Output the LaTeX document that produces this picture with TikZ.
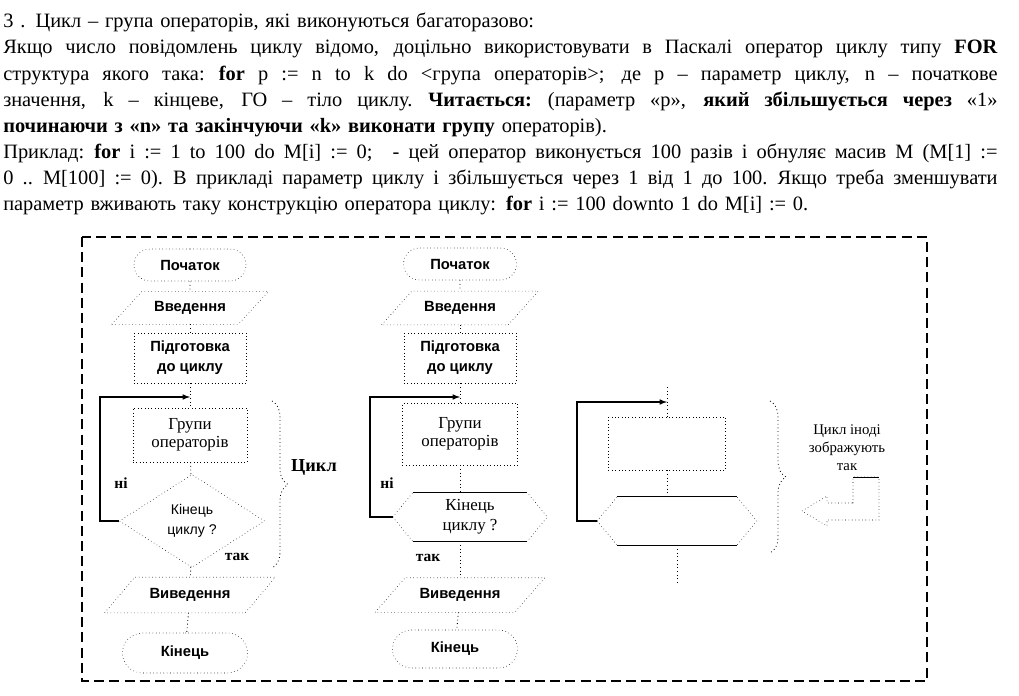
\documentclass[tikz,border=0pt]{standalone}
\usepackage{fontspec}
\setmainfont{Liberation Serif}
\setsansfont{Liberation Sans}
\usetikzlibrary{arrows,shapes.geometric,shapes.misc,decorations.pathreplacing}

% outline of an input/output block (parallelogram) and of a loop end (hexagon)
\newcommand{\iofrm}[1]{\draw[dotted] ([xshift=-0.375cm]#1.south west) -- ([xshift=0.375cm]#1.north west) -- ([xshift=0.375cm]#1.north east) -- ([xshift=-0.375cm]#1.south east) -- cycle;}
\newcommand{\hexfrm}[1]{\draw[dotted] (#1.west) -- ([xshift=0.5cm]#1.north west) -- ([xshift=-0.5cm]#1.north east) -- (#1.east) -- ([xshift=-0.5cm]#1.south east) -- ([xshift=0.5cm]#1.south west) -- cycle;
    \draw[line width=1pt] ([xshift=0.5cm]#1.north west) -- ([xshift=-0.5cm]#1.north east) ([xshift=0.5cm]#1.south west) -- ([xshift=-0.5cm]#1.south east);}
% a justified line of the text
\newcommand{\jline}[1]{\leavevmode\hbox to 24.85cm{\spaceskip=0.25em plus 1fil\xspaceskip=0.3em plus 1fil\relax #1}}

\begin{document}
\begin{tikzpicture}[x=0.025cm, y=-0.025cm,
    term/.style={rounded rectangle, draw, dotted, inner sep=0, minimum width=2.8cm, minimum height=0.8cm, font=\sffamily\bfseries\fontsize{10.5}{12}\selectfont},
    io/.style={rectangle, inner sep=0, minimum width=3.15cm, minimum height=0.8cm, font=\sffamily\bfseries\fontsize{10.5}{12}\selectfont},
    prepbox/.style={rectangle, draw, dotted, inner sep=0, minimum width=2.8cm, minimum height=1.25cm, align=center, font=\sffamily\bfseries\fontsize{10.5}{14}\selectfont},
    bodybox/.style={rectangle, draw, dotted, inner sep=0, minimum width=2.85cm, minimum height=1.35cm, align=center, font=\fontsize{12}{12.5}\selectfont},
    hexbox/.style={rectangle, inner sep=0, minimum width=3.85cm, minimum height=1.2cm, align=center, font=\fontsize{12}{14}\selectfont},
    flow/.style={dotted, line width=0.6pt},
    loopln/.style={-latex, line width=0.8pt},
    lbl/.style={inner sep=0, font=\bfseries\fontsize{11}{13}\selectfont},
    brc/.style={dotted, line width=0.6pt, decorate, decoration={brace, amplitude=0.4cm}}]
    \useasboundingbox (0,0) rectangle (1019,696);

    % text above the picture
    \node (txt) [anchor=north west, inner sep=0, text width=24.85cm, align=left,
        font=\fontsize{14.5}{18.57}\selectfont] at (3,13) {%
        3 . Цикл – група операторів, які виконуються багаторазово:\\
        \jline{Якщо число повідомлень циклу відомо, доцільно використовувати в Паскалі оператор циклу типу \textbf{FOR}}\\
        \jline{структура якого така: \textbf{for} p := n to k do <група операторів>; де р – параметр циклу, n – початкове}\\
        \jline{значення, k – кінцеве, ГО – тіло циклу. \textbf{Читається:} (параметр «р», \textbf{який збільшується через} «1»}\\
        \textbf{починаючи з «n» та закінчуючи «k» виконати групу} операторів).\\
        \jline{Приклад: \textbf{for} i := 1 to 100 do M[i] := 0; \ - цей оператор виконується 100 разів і обнуляє масив M (M[1] :=}\\
        \jline{0 .. M[100] := 0). В прикладі параметр циклу і збільшується через 1 від 1 до 100. Якщо треба зменшувати}\\
        параметр вживають таку конструкцію оператора циклу: \textbf{for} i := 100 downto 1 do M[i] := 0.};

    \draw[dash pattern=on 0.25cm off 0.13cm, line width=1.1pt] (82,237) rectangle (927,681);

    % first chart
    \node[term] (start1) at (190,265) {Початок};
    \node[io, minimum height=0.8cm] (in1) at (190,308) {Введення};
    \node[prepbox] (prep1) at (190,358) {Підготовка\\до циклу};
    \node[bodybox] (body1) at (190,435) {Групи\\операторів};
    \node[diamond, draw, dotted, inner sep=0, aspect=1.56, minimum width=3.625cm, minimum height=2.325cm,
        align=center, font=\sffamily\fontsize{10}{14}\selectfont] (cond1) at (192,521) {Кінець\\циклу ?};
    \node[io, minimum width=3.5cm, minimum height=0.875cm] (out1) at (190,595) {Виведення};
    \node[term, minimum width=3.125cm, minimum height=1cm] (end1) at (185,653) {Кінець};
    \iofrm{in1}
    \iofrm{out1}
    \coordinate (j1) at (190,397);
    \coordinate (k1) at (100,397);
    \draw[flow] (start1) -- (in1);
    \draw[flow] (in1) -- (prep1);
    \draw[flow] (prep1) -- (body1);
    \draw[flow] (body1) -- (cond1);
    \draw[flow] (cond1) -- (out1);
    \draw[flow] (out1) -- (end1);
    \draw[loopln] (cond1.west) -| (k1) -- (j1);
    \node[lbl] (no1) at (121,483) {ні};
    \node[lbl] (yes1) at (237,557) {так};
    \draw[brc] (272,401) -- (272,568);
    \node[font=\bfseries\fontsize{13}{15}\selectfont] (cyc1) at (314,467) {Цикл};

    % second chart
    \node[term, minimum width=2.825cm] (start2) at (460,264) {Початок};
    \node[io, minimum height=0.825cm] (in2) at (460,308) {Введення};
    \node[prepbox] (prep2) at (460,358) {Підготовка\\до циклу};
    \node[bodybox, minimum width=2.875cm, minimum height=1.55cm] (body2) at (460,434) {Групи\\операторів};
    \node[hexbox] (cond2) at (470,517) {Кінець\\циклу ?};
    \node[io, minimum width=3.475cm, minimum height=0.85cm] (out2) at (460,595) {Виведення};
    \node[term, minimum width=3.125cm, minimum height=0.95cm] (end2) at (455,649) {Кінець};
    \iofrm{in2}
    \iofrm{out2}
    \hexfrm{cond2}
    \coordinate (j2) at (460,397);
    \coordinate (k2) at (370,397);
    \draw[flow] (start2) -- (in2);
    \draw[flow] (in2) -- (prep2);
    \draw[flow] (prep2) -- (body2);
    \draw[flow] (body2.south) -- (body2.south |- cond2.north);
    \draw[flow] (out2.north |- cond2.south) -- (out2.north);
    \draw[flow] (out2) -- (end2);
    \draw[loopln] (cond2.west) -| (k2) -- (j2);
    \node[lbl] (no2) at (387,483) {ні};
    \node[lbl] (yes2) at (428,558) {так};

    % third chart
    \node[bodybox, minimum width=2.925cm, minimum height=1.325cm] (blk3) at (667,443.5) {};
    \node[hexbox, minimum width=3.975cm] (hex3) at (677,521) {};
    \hexfrm{hex3}
    \coordinate (t3) at (667,387);
    \coordinate (j3) at (667,402);
    \coordinate (k3) at (577,402);
    \coordinate (b3) at (677,582);
    \draw[flow] (t3) -- (blk3);
    \draw[flow] (blk3.south) -- (blk3.south |- hex3.north);
    \draw[flow] (hex3) -- (b3);
    \draw[loopln] (hex3.west) -| (k3) -- (j3);
    \draw[brc] (770,401) -- (770,553);
    \node[align=center, font=\fontsize{10.5}{12.8}\selectfont] (note3) at (847,448) {Цикл іноді\\зображують\\так};
    % hollow arrow
    \draw[dotted] (853,503) -- (853,477) -- (879,477) -- (879,520) -- (827,520) -- (827,526) -- (802,511) -- (827,496) -- (827,503) -- cycle;
    \draw (853,477) -- (879,477);
\end{tikzpicture}
\end{document}
